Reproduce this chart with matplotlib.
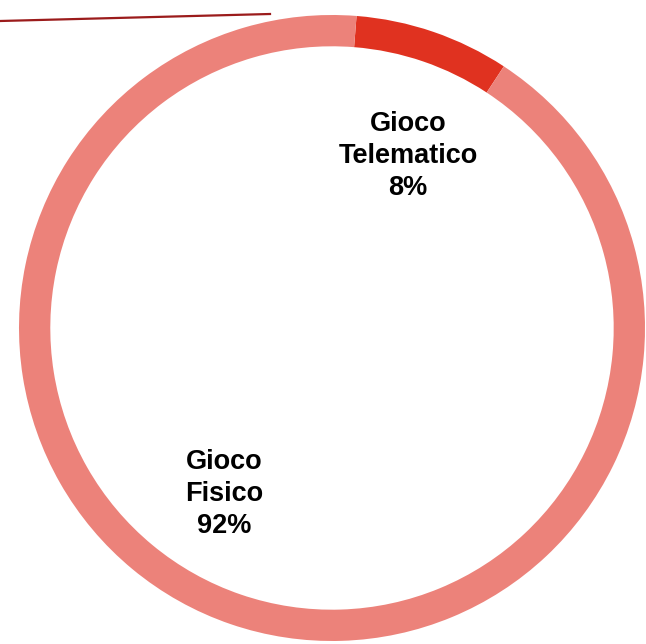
import matplotlib.pyplot as plt
from matplotlib.lines import Line2D

labels = ["Gioco\nTelematico", "Gioco\nFisico"]
shares = [8, 92]
colors = ["#E03220", "#EC827A"]

fig = plt.figure(figsize=(6.46, 6.44), dpi=100)
ax = fig.add_axes([0, 0, 1, 1])

# ring, clockwise from just right of the top
ax.pie(shares, colors=colors, startangle=85.5, counterclock=False, radius=1.0,
       wedgeprops=dict(width=0.1, edgecolor="none", linewidth=0))

label_pos = [(0.243, 0.548), (-0.345, -0.530)]
for lab, val, (lx, ly) in zip(labels, shares, label_pos):
    ax.text(lx, ly, f"{lab}\n{val}%", ha="center", va="center",
            fontsize=19.5, fontweight="bold", family="Liberation Sans",
            linespacing=1.3, color="black")

ax.set_xlim(-1.0607, 1.0032)
ax.set_ylim(-1.0096, 1.0479)
ax.set_aspect("equal")
ax.axis("off")

# thin leader line across the top
fig.add_artist(Line2D([0, 270 / 646], [1 - 21 / 644, 1 - 14 / 644],
                      transform=fig.transFigure, color="#9B1B1B", lw=1.6))

fig.savefig("out.png", dpi=100)
